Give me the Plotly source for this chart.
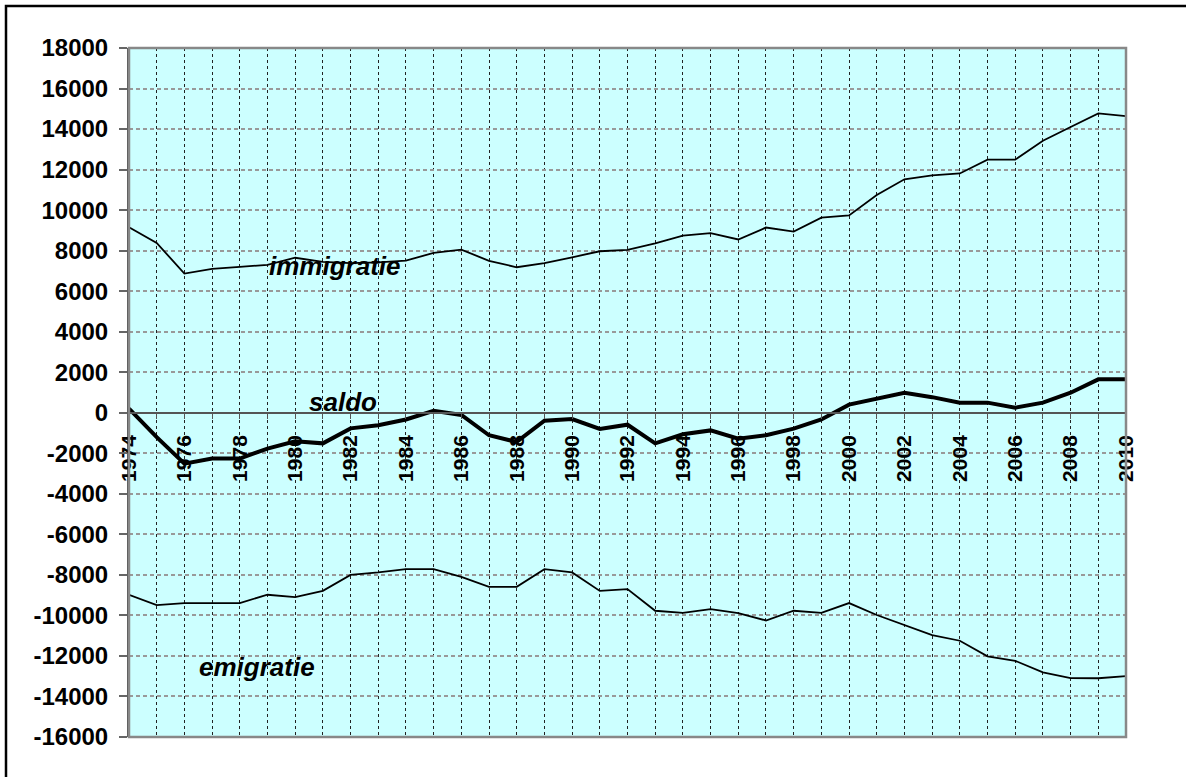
import plotly.graph_objects as go

years = list(range(1974, 2011))

immigratie = [9150, 8380, 6870, 7100, 7200, 7300, 7650, 7450, 7380, 7420, 7510, 7890, 8050,
              7500, 7180, 7380, 7670, 7970, 8040, 8360, 8740, 8860, 8550, 9140, 8940, 9630,
              9740, 10750, 11520, 11710, 11810, 12490, 12490, 13420, 14100, 14770, 14640]

emigratie = [-8980, -9490, -9390, -9390, -9390, -8980, -9100, -8790, -8000, -7880, -7720, -7720,
             -8100, -8590, -8590, -7720, -7880, -8790, -8700, -9770, -9870, -9690, -9890, -10250,
             -9770, -9870, -9390, -9980, -10490, -10970, -11250, -12020, -12240, -12810, -13090,
             -13100, -13000]

saldo = [200, -1200, -2510, -2260, -2260, -1770, -1410, -1510, -770, -620, -330, 100, -110,
         -1110, -1440, -390, -310, -800, -590, -1510, -1060, -870, -1280, -1110, -780, -330,
         400, 690, 990, 770, 500, 500, 250, 500, 990, 1650, 1650]

ytick_vals = list(range(-16000, 18001, 2000))
ytick_text = [str(v) for v in ytick_vals]
xtick_vals = list(range(1974, 2011, 2))
xtick_text = [str(v) for v in xtick_vals]

labels = ["immigratie", "saldo", "emigratie"]
label_x = [1981.44, 1981.73, 1978.62]
label_y = [7260, 510, -12550]

W, H = 1186, 777
L, R, T, B = 129, 60, 48, 40
pw, ph = W - L - R, H - T - B

fig = go.Figure()
fig.add_trace(go.Scatter(x=years, y=immigratie, mode="lines", line=dict(color="black", width=1.8), name="immigratie"))
fig.add_trace(go.Scatter(x=years, y=emigratie, mode="lines", line=dict(color="black", width=1.8), name="emigratie"))
fig.add_trace(go.Scatter(x=years, y=saldo, mode="lines", line=dict(color="black", width=4), name="saldo"))

for t, xv, yv in zip(labels, label_x, label_y):
    fig.add_annotation(x=xv, y=yv, text="<b><i>" + t + "</i></b>", showarrow=False,
                       font=dict(family="Liberation Sans, Arial", size=26, color="black"))

fig.update_layout(
    width=W, height=H,
    margin=dict(l=L, r=R, t=T, b=B, autoexpand=False),
    paper_bgcolor="white",
    plot_bgcolor="#CCFFFF",
    showlegend=False,
    font=dict(family="Liberation Sans, Arial", color="black"),
)

fig.update_xaxes(
    range=[1974, 2010],
    anchor="free", position=16000 / 34000,
    automargin=False,
    tickvals=xtick_vals, ticktext=xtick_text,
    tickangle=-90,
    tickfont=dict(size=21, family="Liberation Sans, Arial", color="black", weight="bold"),
    ticks="outside", ticklen=5, tickcolor="#555555", tickwidth=1,
    ticklabelstandoff=8,
    showline=True, linecolor="#555555", linewidth=2,
    showgrid=True, gridcolor="#222222", griddash="3px,3px", gridwidth=1,
    minor=dict(dtick=1, tick0=1974, showgrid=True, gridcolor="#222222", griddash="3px,3px", gridwidth=1,
               ticks="outside", ticklen=5, tickcolor="#555555"),
    zeroline=False,
)

fig.update_yaxes(
    range=[-16000, 18000],
    automargin=False,
    tickvals=ytick_vals, ticktext=ytick_text,
    tickfont=dict(size=24, family="Liberation Sans, Arial", color="black", weight="bold"),
    ticks="outside", ticklen=8, tickcolor="#666666", tickwidth=2,
    ticklabelstandoff=6,
    showline=True, linecolor="#555555", linewidth=2,
    showgrid=True, gridcolor="#999999", griddash="4px,3px", gridwidth=1.5,
    zeroline=False,
)

# plot area frame
fig.add_shape(type="rect", xref="paper", yref="paper", x0=0, x1=1, y0=0, y1=1,
              line=dict(color="#888888", width=2.5), layer="above")
# outer chart border (extends past the image edges at right and bottom)
fig.add_shape(type="rect", xref="paper", yref="paper",
              x0=(6 - L) / pw, y0=-0.2, x1=1.2, y1=(H - B - 6) / ph,
              line=dict(color="black", width=2.5), layer="above")

fig.write_html("out.html", config={"displayModeBar": False},
               post_script="document.body.style.margin='0';document.body.style.overflow='hidden';")
